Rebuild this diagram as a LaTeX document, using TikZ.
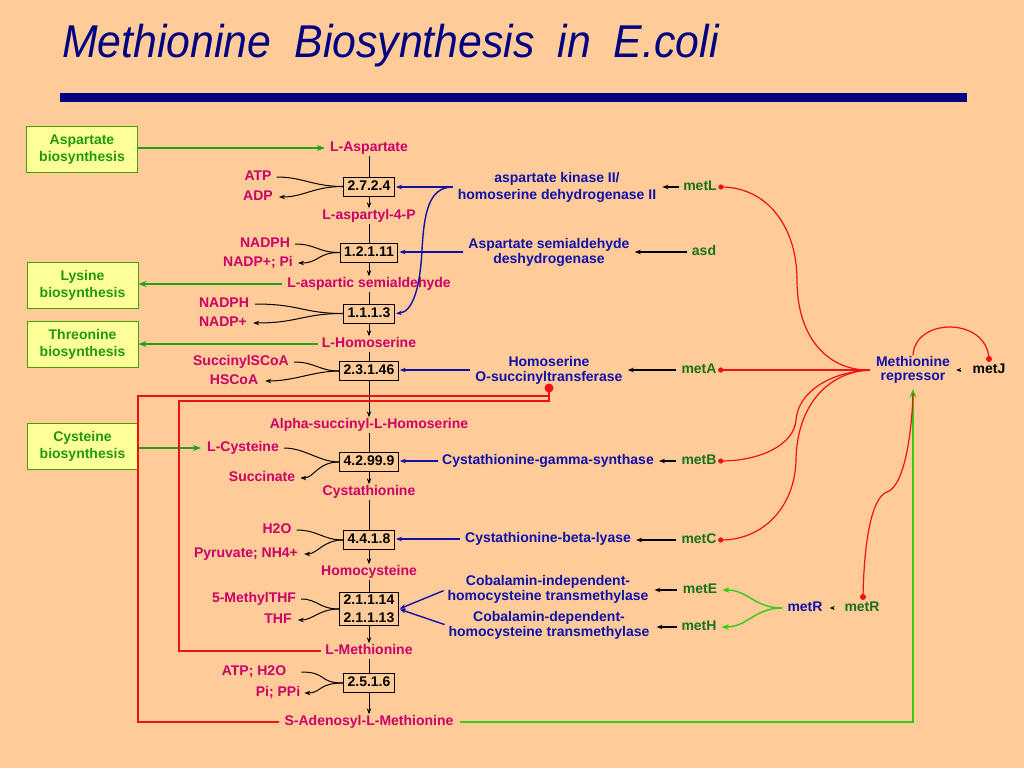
\documentclass[tikz,border=0pt]{standalone}
\usepackage{fontspec}
\setmainfont{Liberation Sans}
\usetikzlibrary{arrows.meta,calc}
\definecolor{bg}{HTML}{FFCC99}
\definecolor{navy}{HTML}{000080}
\definecolor{metc}{HTML}{CC0066}
\definecolor{enzc}{HTML}{1010AA}
\definecolor{genec}{HTML}{1A701A}
\definecolor{gtext}{HTML}{22990A}
\definecolor{gline}{HTML}{44A000}
\definecolor{gfill}{HTML}{FFFF99}
\definecolor{garr}{HTML}{22A01A}
\definecolor{lime}{HTML}{33CC11}
\definecolor{redc}{HTML}{EE1111}
\newcommand{\tw}[1]{\scalebox{0.93}[1]{#1}}
\begin{document}
\begin{tikzpicture}[x=1pt,y=-1pt,
  lbl/.style={font=\bfseries\fontsize{14}{16}\selectfont, inner sep=1pt, text height=10pt, text depth=3pt},
  met/.style={lbl, text=metc},
  gene/.style={lbl, text=genec},
  enz/.style={font=\bfseries\fontsize{14}{15}\selectfont, inner sep=1pt, text=enzc, align=center},
  ecbox/.style={draw=black, fill=bg, line width=1pt, font=\bfseries\fontsize{14}{18}\selectfont, inner xsep=4pt, inner ysep=3pt, text height=10pt, text depth=3pt},
  ecboxtwo/.style={draw=black, fill=bg, line width=1pt, font=\bfseries\fontsize{14}{18}\selectfont, inner xsep=4pt, inner ysep=3pt, align=center},
  gbox/.style={draw=gline, fill=gfill, line width=1pt, text=gtext, align=center, minimum width=111pt, minimum height=46pt, inner sep=1pt, font=\bfseries\fontsize{14}{17}\selectfont},
  tip/.style={-{Stealth[length=6pt,width=4.5pt]}},
  flow/.style={black, line width=1pt},
  flowarr/.style={flow, tip},
  barr/.style={black, line width=1.2pt, tip},
  blarr/.style={enzc, line width=1.4pt, tip},
  garrow/.style={garr, line width=1.4pt, -{Stealth[length=8pt,width=6pt]}},
  limearr/.style={lime, line width=1.4pt, -{Stealth[length=7pt,width=5.5pt]}},
  redl/.style={redc, line width=1.2pt},
]
\useasboundingbox (0,0) rectangle (1024,768);
\fill[bg] (0,0) rectangle (1024,768);

% title and bar
\node[anchor=base west, inner sep=0pt, text=navy, font=\itshape\fontsize{46}{50}\selectfont] (title) at (62,58) {\tw{Methionine}\hspace{23pt}\tw{Biosynthesis}\hspace{23pt}\tw{in}\hspace{23pt}\tw{E.coli}};
\node[fill=navy, minimum width=907pt, minimum height=9pt, inner sep=0pt] (bar) at (513.5,97.5) {};

% green boxes
\node[gbox] (gasp) at (82,149.5) {Aspartate\\biosynthesis};
\node[gbox] (glys) at (82.5,285) {Lysine\\biosynthesis};
\node[gbox] (gthr) at (82.5,344.5) {Threonine\\biosynthesis};
\node[gbox] (gcys) at (82.5,446) {Cysteine\\biosynthesis};

% main metabolites
\node[met] (asp) at (369,148) {L-Aspartate};
\node[met] (a4p) at (369,216) {L-aspartyl-4-P};
\node[met] (asa) at (369,284) {L-aspartic semialdehyde};
\node[met] (hser) at (369,344) {L-Homoserine};
\node[met] (ash) at (369,425) {Alpha-succinyl-L-Homoserine};
\node[met] (cysth) at (369,492) {Cystathionine};
\node[met] (hcys) at (369,572) {Homocysteine};
\node[met] (lmet) at (369,651) {L-Methionine};
\node[met] (sam) at (369,722) {S-Adenosyl-L-Methionine};

% EC boxes
\node[ecbox] (e1) at (369,186.5) {2.7.2.4};
\node[ecbox] (e2) at (369,252.5) {1.2.1.11};
\node[ecbox] (e3) at (369,313.5) {1.1.1.3};
\node[ecbox] (e4) at (369,371) {2.3.1.46};
\node[ecbox] (e5) at (369,462) {4.2.99.9};
\node[ecbox] (e6) at (369,540) {4.4.1.8};
\node[ecboxtwo] (e7) at (369,609) {2.1.1.14\\2.1.1.13};
\node[ecbox] (e8) at (369,683) {2.5.1.6};

% side substrates
\node[met] (atp) at (258,177) {ATP};
\node[met] (adp) at (258,197) {ADP};
\node[met] (nadpha) at (265,244) {NADPH};
\node[met] (nadpa) at (258,263) {NADP+; Pi};
\node[met] (nadphb) at (224,304) {NADPH};
\node[met] (nadpb) at (223,323) {NADP+};
\node[met] (sscoa) at (241,362) {SuccinylSCoA};
\node[met] (hscoa) at (234,381) {HSCoA};
\node[met] (lcys) at (243,448) {L-Cysteine};
\node[met] (succ) at (262,478) {Succinate};
\node[met] (water) at (277,530) {H2O};
\node[met] (pyr) at (246,554) {Pyruvate; NH4+};
\node[met] (mthf) at (254,599) {5-MethylTHF};
\node[met] (thf) at (278,620) {THF};
\node[met] (atpw) at (254,672) {ATP; H2O};
\node[met] (pippi) at (278,693) {Pi; PPi};

% enzymes
\node[enz, font=\bfseries\fontsize{14}{17}\selectfont] (enza) at (557,187) {aspartate kinase II/\\homoserine dehydrogenase II};
\node[enz] (enzb) at (549,252) {Aspartate semialdehyde\\deshydrogenase};
\node[enz] (enzc) at (549,370) {Homoserine\\O-succinyltransferase};
\node[enz] (enzd) at (548,461) {Cystathionine-gamma-synthase};
\node[enz] (enze) at (548,539) {Cystathionine-beta-lyase};
\node[enz] (enzf) at (548,589.5) {Cobalamin-independent-\\homocysteine transmethylase};
\node[enz] (enzg) at (549,625.5) {Cobalamin-dependent-\\homocysteine transmethylase};
\node[enz, font=\bfseries\fontsize{14}{14}\selectfont] (rep) at (913,370) {Methionine\\repressor};

% genes
\node[gene] (metL) at (700,187) {metL};
\node[gene] (asd) at (704,252) {asd};
\node[gene] (metA) at (699,370) {metA};
\node[gene] (metB) at (699,461) {metB};
\node[gene] (metC) at (699,540) {metC};
\node[gene] (metE) at (700,590) {metE};
\node[gene] (metH) at (699,627) {metH};
\node[lbl, text=enzc] (metRp) at (805,608) {metR};
\node[gene] (metRg) at (862,608) {metR};
\node[lbl, text=black] (metJ) at (989,370) {metJ};

% main pathway flow
\draw[flow] (asp) -- (e1);
\draw[flowarr] (e1) -- (a4p);
\draw[flow] (a4p) -- (e2);
\draw[flowarr] (e2) -- (asa);
\draw[flow] (asa) -- (e3);
\draw[flowarr] (e3) -- (hser);
\draw[flow] (hser) -- (e4);
\draw[flowarr] (e4) -- (ash);
\draw[flow] (ash) -- (e5);
\draw[flowarr] (e5) -- (cysth);
\draw[flow] (cysth) -- (e6);
\draw[flowarr] (e6) -- (hcys);
\draw[flow] (hcys) -- (e7);
\draw[flowarr] (e7) -- (lmet);
\draw[flow] (lmet) -- (e8);
\draw[flowarr] (e8) -- (sam);

% side reactions
\draw[flow, shorten <=4pt] (atp.east) .. controls +(30,0) and +(-30,0) .. (e1.west);
\draw[flowarr, shorten >=5pt] (e1.west) .. controls +(-30,0) and +(30,0) .. (adp.east);
\draw[flow, shorten <=4pt] (nadpha.east) .. controls +(25,0) and +(-22,0) .. (e2.west);
\draw[flowarr, shorten >=4pt] (e2.west) .. controls +(-22,0) and +(25,0) .. (nadpa.east);
\draw[flow, shorten <=5pt] (nadphb.east) .. controls +(50,0) and +(-40,0) .. (e3.west);
\draw[flowarr, shorten >=5pt] (e3.west) .. controls +(-40,0) and +(50,0) .. (nadpb.east);
\draw[flow, shorten <=4pt] (sscoa.east) .. controls +(25,0) and +(-20,0) .. (e4.west);
\draw[flowarr, shorten >=6pt] (e4.west) .. controls +(-25,0) and +(35,0) .. (hscoa.east);
\draw[flow, shorten <=4pt] (lcys.east) .. controls +(25,0) and +(-20,0) .. (e5.west);
\draw[flowarr, shorten >=4pt] (e5.west) .. controls +(-22,0) and +(18,0) .. (succ.east);
\draw[flow, shorten <=4pt] (water.east) .. controls +(25,0) and +(-20,0) .. (e6.west);
\draw[flowarr, shorten >=5pt] (e6.west) .. controls +(-20,0) and +(18,0) .. (pyr.east);
\draw[flow, shorten <=4pt] (mthf.east) .. controls +(20,0) and +(-20,0) .. (e7.west);
\draw[flowarr, shorten >=5pt] (e7.west) .. controls +(-20,0) and +(20,0) .. (thf.east);
\draw[flow, shorten <=14pt] (atpw.east) .. controls +(40,0) and +(-25,0) .. (e8.west);
\draw[flowarr, shorten >=3pt] (e8.west) .. controls +(-25,0) and +(20,0) .. (pippi.east);

% green inputs / outputs
\draw[garrow, shorten >=4pt] (gasp.east |- asp) -- (asp);
\draw[garrow, shorten <=4pt] (asa) -- (asa -| glys.east);
\draw[garrow, shorten <=3pt] (hser) -- (hser -| gthr.east);
\draw[garrow, shorten >=5pt] (gcys.east |- lcys) -- (lcys);

% enzymes to EC boxes
\draw[blarr, shorten <=4pt, shorten >=1pt] (enza) -- (enza -| e1.east);
\draw[blarr, shorten <=4pt, shorten >=1pt] (enza.west) .. controls (428,187) and (424,215) .. (422,250) .. controls (420,290) and (412,312) .. (e3.east);
\draw[blarr, shorten <=4pt, shorten >=1pt] (enzb) -- (enzb -| e2.east);
\draw[blarr, shorten <=4pt, shorten >=1pt] (enzc) -- (enzc -| e4.east);
\draw[blarr, shorten <=3pt, shorten >=1pt] (enzd) -- (enzd -| e5.east);
\draw[blarr, shorten <=4pt, shorten >=1pt] (enze) -- (enze -| e6.east);
\draw[blarr, shorten <=3pt, shorten >=1pt] (enzf.west) -- (e7.east);
\draw[blarr, shorten <=3pt, shorten >=1pt] (enzg.west) -- (e7.east);

% genes to enzymes
\draw[barr, shorten <=3pt, shorten >=5pt] (metL) -- (metL -| enza.east);
\draw[barr, shorten <=4pt, shorten >=4pt] (asd) -- (asd -| enzb.east);
\draw[barr, shorten <=4pt, shorten >=4pt] (metA) -- (metA -| enzc.east);
\draw[barr, shorten <=4pt, shorten >=4pt] (metB) -- (metB -| enzd.east);
\draw[barr, shorten <=4pt, shorten >=4pt] (metC) -- (metC -| enze.east);
\draw[barr, shorten <=5pt, shorten >=5pt] (metE) -- (metE -| enzf.east);
\draw[barr, shorten <=3pt, shorten >=6pt] (metH) -- (metH -| enzg.east);
\draw[black, line width=1pt, -{Stealth[length=5pt,width=4pt]}, shorten <=9pt, shorten >=6pt] (metRg) -- (metRp);
\draw[black, line width=1pt, -{Stealth[length=5pt,width=4pt]}, shorten <=10pt, shorten >=5pt] (metJ) -- (metJ -| rep.east);

% metR activation fork
\draw[limearr, shorten <=4pt, shorten >=4pt] (metRp.west) .. controls +(-32,0) and +(30,0) .. (metE.east);
\draw[limearr, shorten <=4pt, shorten >=4pt] (metRp.west) .. controls +(-32,0) and +(30,0) .. (metH.east);

% SAM activates repressor
\draw[lime, line width=1.4pt, -{Stealth[length=9pt,width=7pt]}, shorten <=5pt, shorten >=4pt] (sam) -| (rep.south);

% feedback inhibition of homoserine O-succinyltransferase
\coordinate (inh) at (549,388);
\draw[redl, shorten <=3pt] (lmet) -| (179,401) -| (inh);
\draw[redl, shorten <=4pt] (sam) -| (138,396) -| (inh);
\fill[redc] (inh) circle (4.5);

% repressor
\coordinate (repw) at ([xshift=-5pt]rep.west);
\coordinate (dL) at ([xshift=3pt]metL.east);
\coordinate (dA) at ([xshift=3pt]metA.east);
\coordinate (dB) at ([xshift=3pt]metB.east);
\coordinate (dC) at ([xshift=3pt]metC.east);
\coordinate (dR) at (863,597);
\coordinate (dJ) at (989,359);
\coordinate (repin) at (913,393);
\draw[redl] (repw) .. controls (830,371) and (797,340) .. (797,280) .. controls (797,228) and (768,187) .. (dL);
\draw[redl] (repw) -- (dA);
\draw[redl] (repw) .. controls (830,372) and (798,392) .. (796,420) .. controls (794,445) and (760,461) .. (dB);
\draw[redl] (repw) .. controls (828,372) and (797,405) .. (796,460) .. controls (795,505) and (765,540) .. (dC);
\draw[redl] (dR) .. controls (864,540) and (872,497) .. (887,492) .. controls (905,486) and (912,430) .. (repin);
\draw[redl] (rep.north) .. controls (915,317) and (987,317) .. (dJ);
\foreach \d in {dL,dA,dB,dC} \fill[redc] (\d) circle (2.6);
\fill[redc] (dR) circle (3);
\fill[redc] (dJ) circle (3);
\end{tikzpicture}
\end{document}
